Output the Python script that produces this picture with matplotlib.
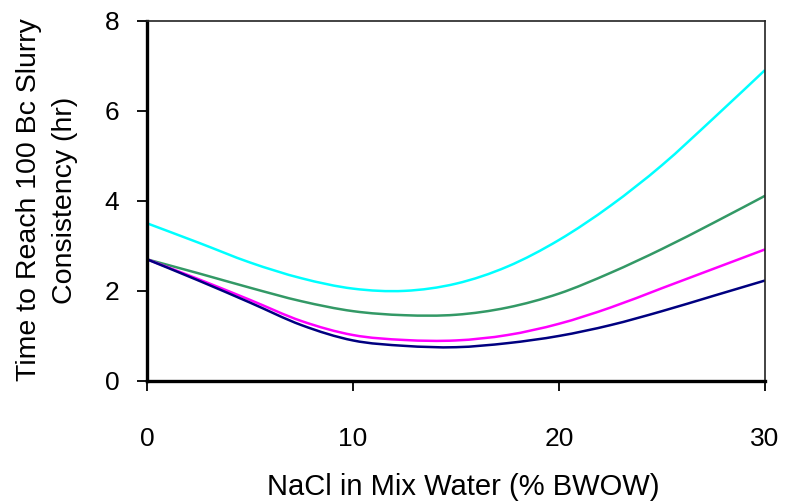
import numpy as np
import matplotlib
matplotlib.use("Agg")
import matplotlib.pyplot as plt
from matplotlib.path import Path
from matplotlib.patches import PathPatch

plt.rcParams['font.family'] = ['Liberation Sans', 'DejaVu Sans']

nacl = [0, 2.5, 5, 7.5, 10, 12.5, 15, 17.5, 20, 22.5, 25, 27.5, 30]
cyan_vals = [3.5, 3.07, 2.63, 2.28, 2.05, 2.0, 2.16, 2.54, 3.13, 3.89, 4.79, 5.83, 6.9]
green_vals = [2.7, 2.39, 2.07, 1.77, 1.55, 1.46, 1.47, 1.63, 1.94, 2.4, 2.93, 3.51, 4.11]
magenta_vals = [2.7, 2.26, 1.8, 1.33, 1.02, 0.91, 0.9, 1.02, 1.27, 1.63, 2.06, 2.49, 2.92]
navy_vals = [2.7, 2.23, 1.74, 1.24, 0.9, 0.78, 0.75, 0.84, 1.0, 1.24, 1.55, 1.89, 2.23]

series = [
    (cyan_vals, '#00FFFF'),
    (green_vals, '#339966'),
    (magenta_vals, '#FF00FF'),
    (navy_vals, '#000080'),
]


def smooth_path(xs, ys):
    # excel-style smoothed line: cubic bezier between the points
    pts = np.column_stack([xs, ys]).astype(float)
    n = len(pts)
    verts = [pts[0]]
    codes = [Path.MOVETO]
    for i in range(n - 1):
        p_prev = pts[max(i - 1, 0)]
        p0 = pts[i]
        p1 = pts[i + 1]
        p_next = pts[min(i + 2, n - 1)]
        c1 = p0 + (p1 - p_prev) / 6.0
        c2 = p1 - (p_next - p0) / 6.0
        verts += [c1, c2, p1]
        codes += [Path.CURVE4] * 3
    return Path(verts, codes)


W, H = 786, 503
fig = plt.figure(figsize=(W / 100, H / 100), dpi=100)
ax = fig.add_axes([147 / W, 1 - 381 / H, (765 - 147) / W, (381 - 20.5) / H])

for vals, col in series:
    patch = PathPatch(smooth_path(nacl, vals), facecolor='none', edgecolor=col, lw=1.8)
    ax.add_patch(patch)

ax.set_xlim(0, 30)
ax.set_ylim(0, 8)
ax.set_xticks([0, 10, 20, 30])
ax.set_yticks([0, 2, 4, 6, 8])

for side in ['left', 'bottom']:
    ax.spines[side].set_linewidth(2.4)
    ax.spines[side].set_color('black')
for side in ['top', 'right']:
    ax.spines[side].set_linewidth(1.2)
    ax.spines[side].set_color('#222222')

ax.tick_params(axis='both', direction='out', length=7, width=1.3, colors='black', labelsize=19)
ax.tick_params(axis='x', pad=26)
ax.tick_params(axis='y', pad=13)

fig.text(463 / W, 8 / H, 'NaCl in Mix Water (% BWOW)', fontsize=21,
         ha='center', va='baseline')
fig.text(47 / W, 1 - 200 / H, 'Time to Reach 100 Bc Slurry\nConsistency (hr)',
         fontsize=20.5, rotation=90, ha='center', va='center',
         multialignment='center', linespacing=1.45)

fig.savefig('out.png', dpi=100)
